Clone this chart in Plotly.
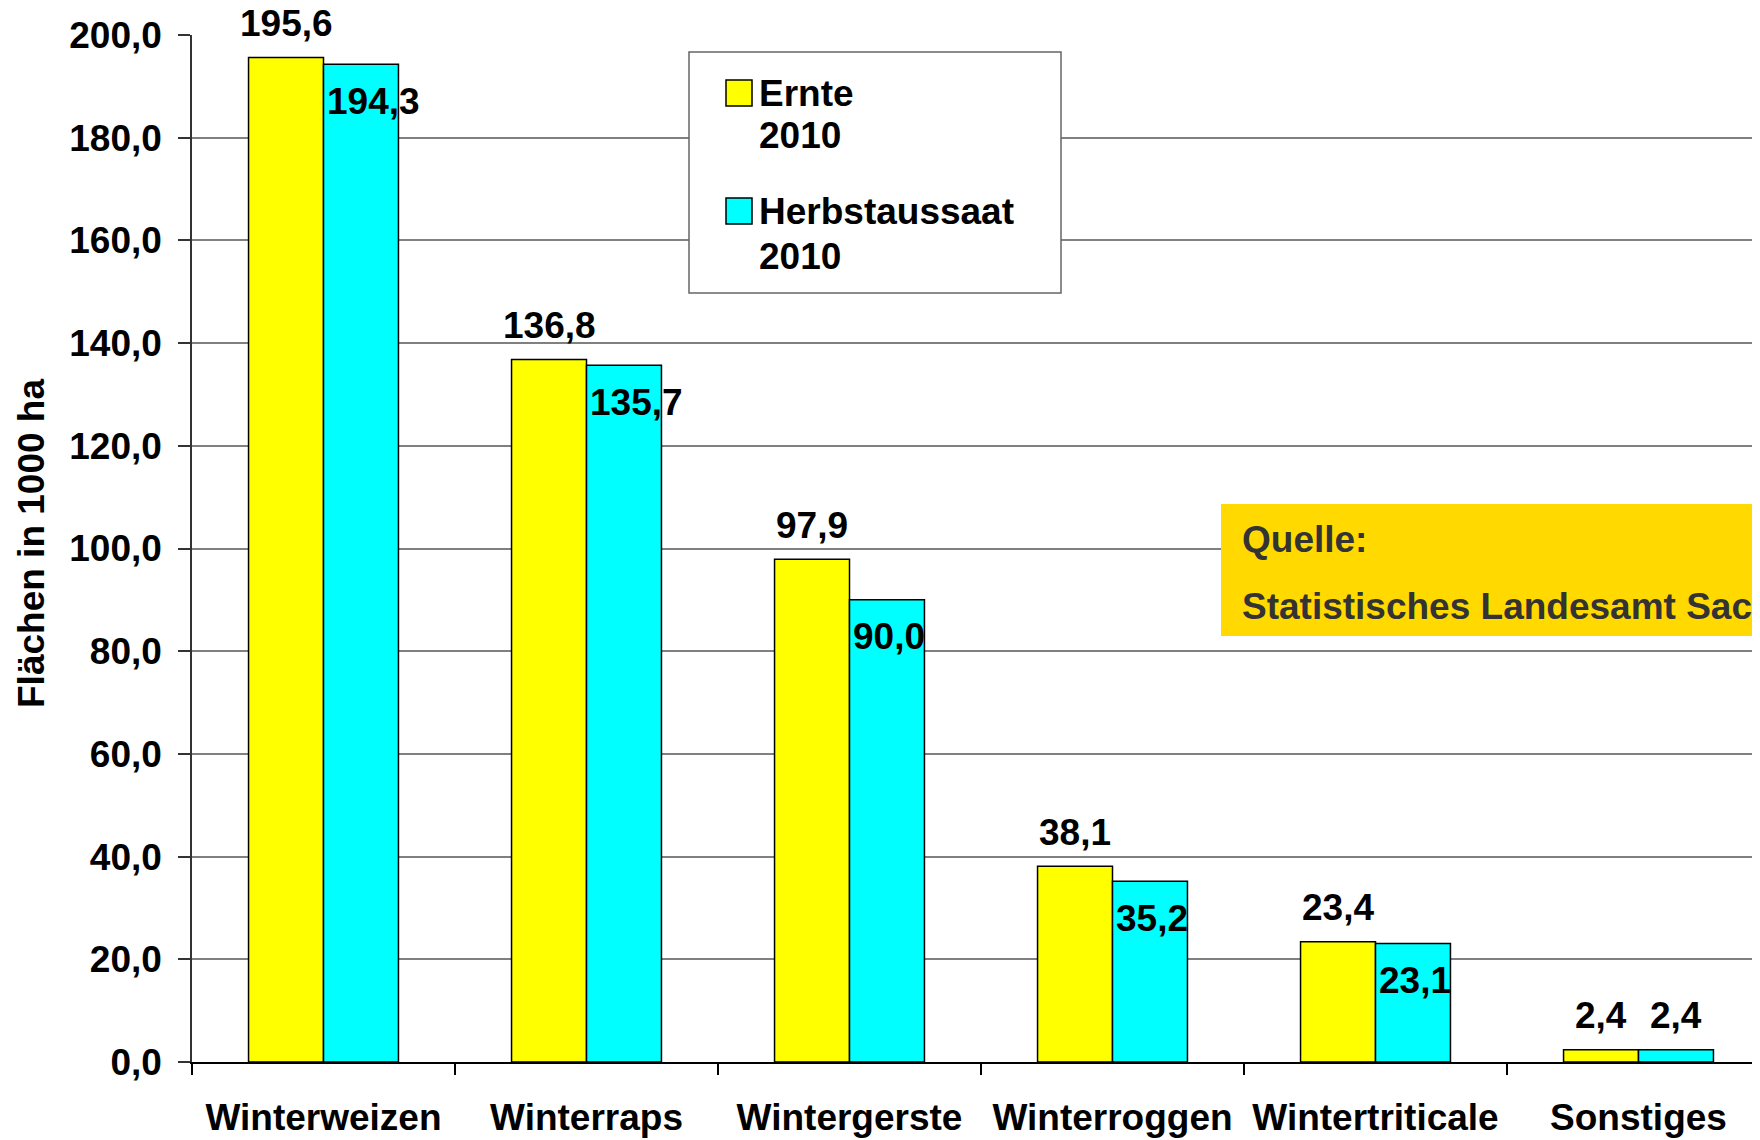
import plotly.graph_objects as go

# ---------------- data ----------------
categories = ["Winterweizen", "Winterraps", "Wintergerste",
              "Winterroggen", "Wintertriticale", "Sonstiges"]
ernte_2010 = [195.6, 136.8, 97.9, 38.1, 23.4, 2.4]
herbstaussaat_2010 = [194.3, 135.7, 90.0, 35.2, 23.1, 2.4]
series_names = ["Ernte 2010", "Herbstaussaat 2010"]
legend_lines = [["Ernte", "2010"], ["Herbstaussaat", "2010"]]
y_tick_values = [0, 20, 40, 60, 80, 100, 120, 140, 160, 180, 200]
y_tick_labels = ["0,0", "20,0", "40,0", "60,0", "80,0", "100,0",
                 "120,0", "140,0", "160,0", "180,0", "200,0"]
y_title = "Flächen in 1000 ha"
source_lines = ["Quelle:", "Statistisches Landesamt Sachsen"]

# ---------------- styling ----------------
FONT = "Liberation Sans"
FS = 37
YELLOW = "#FFFF00"
CYAN = "#00FFFF"
OFF = 8                      # page body margin of the html page
W_FIG, H_FIG = 1760 - OFF, 1140 - OFF
# plot area in window pixel coordinates
PX_L, PX_R, PX_T, PX_B = 192, 1760, 35, 1062
L = PX_L - OFF
T = PX_T - OFF
R = W_FIG - (PX_R - OFF)
B = H_FIG - (PX_B - OFF)
PW = PX_R - PX_L
PH = PX_B - PX_T


def px_x(px):
    return (px - PX_L) / PW


def px_y(py):
    return (PX_B - py) / PH


def fnt(color="black", size=FS):
    return dict(family=FONT, size=size, color=color, weight="bold")


fig = go.Figure()
fig.add_bar(x=categories, y=ernte_2010, name=series_names[0],
            marker=dict(color=YELLOW, line=dict(color="black", width=1.5)),
            showlegend=False)
fig.add_bar(x=categories, y=herbstaussaat_2010, name=series_names[1],
            marker=dict(color=CYAN, line=dict(color="black", width=1.5)),
            showlegend=False)

annotations = []
half_bar = 37.5
# value labels for Ernte (above bar, centered)
for c, v in zip(categories, ernte_2010):
    annotations.append(dict(x=c, y=v, xref="x", yref="y",
                            text=f"{v:.1f}".replace(".", ","),
                            showarrow=False, xanchor="center", yanchor="middle",
                            xshift=-half_bar, yshift=34, font=fnt()))
# value labels for Herbstaussaat (inside top, left-anchored; above if tiny)
for c, v in zip(categories, herbstaussaat_2010):
    txt = f"{v:.1f}".replace(".", ",")
    if v > 10:
        annotations.append(dict(x=c, y=v, xref="x", yref="y", text=txt,
                                showarrow=False, xanchor="left", yanchor="middle",
                                xshift=1, yshift=-37, font=fnt()))
    else:
        annotations.append(dict(x=c, y=v, xref="x", yref="y", text=txt,
                                showarrow=False, xanchor="center", yanchor="middle",
                                xshift=half_bar, yshift=34, font=fnt()))

# y-axis title
annotations.append(dict(x=px_x(31), y=px_y(544), xref="paper", yref="paper",
                        text=y_title, textangle=-90, showarrow=False,
                        xanchor="center", yanchor="middle", font=fnt()))

shapes = []
# legend box
shapes.append(dict(type="rect", xref="paper", yref="paper",
                   x0=px_x(689), x1=px_x(1061), y0=px_y(293), y1=px_y(52),
                   fillcolor="white", line=dict(color="#666666", width=1.5),
                   layer="above"))
swatch_tops = [80, 198]
line_centers = [[94, 135], [211, 256]]
for i, col in enumerate([YELLOW, CYAN]):
    st = swatch_tops[i]
    shapes.append(dict(type="rect", xref="paper", yref="paper",
                       x0=px_x(726), x1=px_x(752), y0=px_y(st + 26), y1=px_y(st),
                       fillcolor=col, line=dict(color="black", width=1.5),
                       layer="above"))
    for line, yc in zip(legend_lines[i], line_centers[i]):
        annotations.append(dict(x=px_x(757), y=px_y(yc), xref="paper", yref="paper",
                                text=line, showarrow=False, xanchor="left",
                                yanchor="middle", font=fnt()))

# source box
shapes.append(dict(type="rect", xref="paper", yref="paper",
                   x0=px_x(1221), x1=px_x(1900), y0=px_y(636), y1=px_y(504),
                   fillcolor="#FFD900", line=dict(width=0), layer="above"))
for line, yc in zip(source_lines, [539, 606]):
    annotations.append(dict(x=px_x(1240), y=px_y(yc), xref="paper", yref="paper",
                            text=line, showarrow=False, xanchor="left",
                            yanchor="middle", font=fnt("#333333")))

cat_px = 263.0
fig.update_layout(
    width=W_FIG, height=H_FIG,
    margin=dict(l=L, r=R, t=T, b=B, pad=0),
    paper_bgcolor="white", plot_bgcolor="white",
    barmode="group", bargap=0.43, bargroupgap=0,
    separators=",.",
    font=dict(family=FONT, size=FS, color="black"),
    xaxis=dict(range=[-0.5, -0.5 + PW / cat_px], tickson="boundaries",
               ticks="outside", ticklen=11, tickwidth=1.5, tickcolor="black",
               showline=True, linecolor="black", linewidth=2,
               showgrid=False, tickangle=0, tickfont=fnt(),
               ticklabelstandoff=22, automargin=False, fixedrange=True),
    yaxis=dict(range=[0, 200], tickvals=y_tick_values, ticktext=y_tick_labels,
               ticks="outside", ticklen=12, tickwidth=1.5, tickcolor="#333333",
               showline=True, linecolor="#333333", linewidth=1.5,
               showgrid=True, gridcolor="#808080", gridwidth=1.5,
               zeroline=False, tickfont=fnt(), ticklabelstandoff=9,
               automargin=False, fixedrange=True),
    annotations=annotations,
    shapes=shapes,
    showlegend=False,
)

fig.write_html("out.html")
